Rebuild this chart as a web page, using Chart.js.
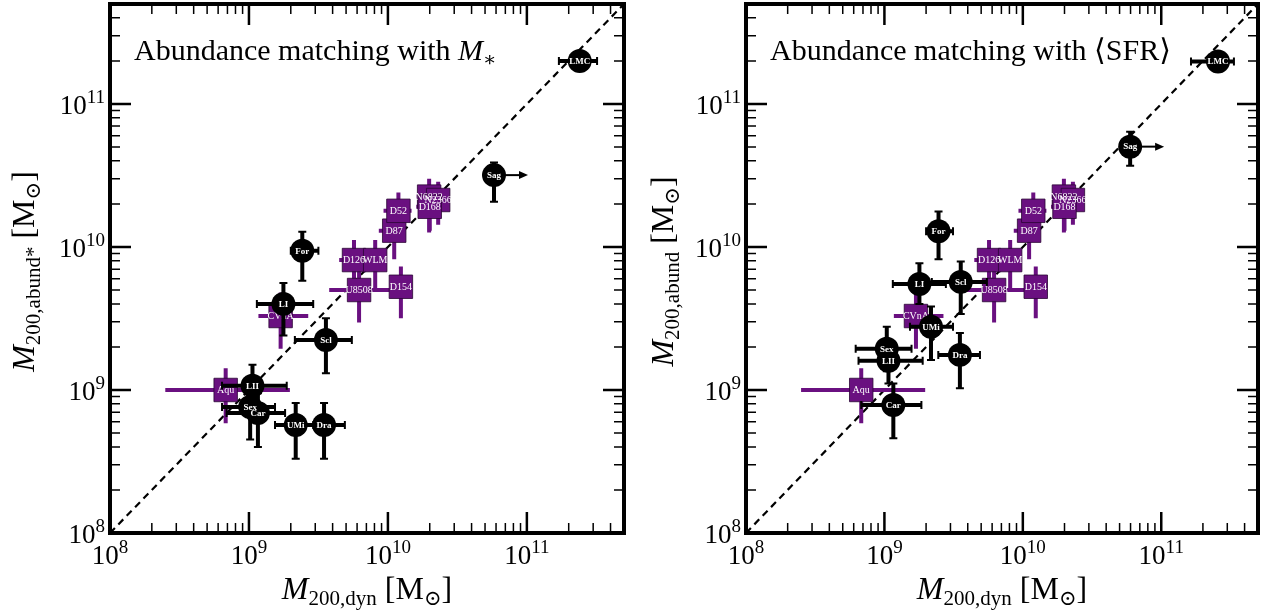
<!DOCTYPE html>
<html>
<head>
<meta charset="utf-8">
<script src="https://cdn.jsdelivr.net/npm/chart.js@4.4.1/dist/chart.umd.min.js"></script>
<style>
  html, body { margin: 0; padding: 0; background: #fff; }
  .panel { position: absolute; top: 0; width: 632px; height: 612px; }
  #left { left: 0; }
  #right { left: 632px; }
</style>
</head>
<body>
<div class="panel" id="left"><canvas id="c1" width="632" height="612"></canvas></div>
<div class="panel" id="right"><canvas id="c2" width="632" height="612"></canvas></div>
<script>
const SERIF = '"Liberation Serif", "DejaVu Serif", serif';
const PURPLE = '#6a1080';

// axis range and tick labels (both panels)
const axisMin = 1e8;
const axisMax = 5e11;
const majorTicks = [1e8, 1e9, 1e10, 1e11];
const majorExp = ['8', '9', '10', '11'];

// purple squares (same in both panels)
const sqNames = ['Aqu', 'CVnA', 'U8508', 'D154', 'D126', 'WLM', 'D87', 'D52', 'N6822', 'N2366', 'D168'];
const sqX   = [6.8e8, 1.69e9, 6.2e9, 1.24e10, 5.7e9, 8.1e9, 1.11e10, 1.19e10, 1.98e10, 2.3e10, 2.0e10];
const sqXlo = [2.5e8, 1.17e9, 3.78e9, 1.1e10, 4.46e9, 7.5e9, 8.6e9, 9.3e9, 1.6e10, 2.0e10, 1.6e10];
const sqXhi = [1.97e9, 2.67e9, 1.03e10, 1.4e10, 6.5e9, 8.8e9, 1.25e10, 1.48e10, 2.5e10, 2.6e10, 2.4e10];
const sqY   = [1.0e9, 3.29e9, 5.0e9, 5.27e9, 8.1e9, 8.1e9, 1.3e10, 1.79e10, 2.25e10, 2.13e10, 1.91e10];
const sqYlo = [5.85e8, 1.94e9, 2.96e9, 3.17e9, 5.9e9, 5.1e9, 8.2e9, 1.32e10, 1.26e10, 1.43e10, 1.3e10];
const sqYhi = [1.42e9, 4.8e9, 7.5e9, 7.3e9, 1.12e10, 1.12e10, 1.6e10, 2.4e10, 3.0e10, 2.86e10, 2.6e10];

// black circles, left panel (abundance matching with M*)
const starNames = ['LMC', 'Sag', 'For', 'LI', 'Scl', 'LII', 'Sex', 'Car', 'UMi', 'Dra'];
const starX   = [2.4e11, 5.8e10, 2.42e9, 1.77e9, 3.58e9, 1.06e9, 1.02e9, 1.16e9, 2.17e9, 3.47e9];
const starXlo = [1.7e11, 5.8e10, 2.0e9, 1.14e9, 2.14e9, 6.4e8, 6.4e8, 6.9e8, 1.54e9, 2.33e9];
const starXhi = [3.2e11, 5.8e10, 3.16e9, 2.9e9, 5.5e9, 1.87e9, 1.54e9, 1.82e9, 2.9e9, 4.9e9];
const starY   = [2.0e11, 3.18e10, 9.4e9, 4.0e9, 2.24e9, 1.07e9, 7.6e8, 6.9e8, 5.7e8, 5.7e8];
const starYlo = [1.85e11, 2.07e10, 5.8e9, 2.4e9, 1.31e9, 7.6e8, 4.5e8, 4.0e8, 3.3e8, 3.3e8];
const starYhi = [2.15e11, 3.9e10, 1.28e10, 5.6e9, 3.17e9, 1.5e9, 9.5e8, 9.5e8, 8.1e8, 8.1e8];
const starLowerLimX = [false, true, false, false, false, false, false, false, false, false];

// black circles, right panel (abundance matching with <SFR>)
const sfrNames = ['LMC', 'Sag', 'For', 'LI', 'Scl', 'UMi', 'Sex', 'LII', 'Car', 'Dra'];
const sfrX   = [2.57e11, 5.96e10, 2.46e9, 1.79e9, 3.56e9, 2.17e9, 1.04e9, 1.07e9, 1.16e9, 3.51e9];
const sfrXlo = [1.64e11, 5.96e10, 2.0e9, 1.15e9, 2.2e9, 1.53e9, 6.2e8, 6.5e8, 6.8e8, 2.45e9];
const sfrXhi = [3.35e11, 5.96e10, 3.13e9, 2.78e9, 5.5e9, 3.13e9, 1.57e9, 1.89e9, 1.85e9, 4.9e9];
const sfrY   = [1.98e11, 5.03e10, 1.29e10, 5.5e9, 5.7e9, 2.77e9, 1.94e9, 1.6e9, 7.85e8, 1.76e9];
const sfrYlo = [1.85e11, 3.7e10, 8.2e9, 4.0e9, 3.4e9, 1.62e9, 1.35e9, 1.11e9, 4.6e8, 1.03e9];
const sfrYhi = [2.15e11, 6.4e10, 1.77e10, 7.7e9, 7.9e9, 3.83e9, 2.77e9, 2.1e9, 1.11e9, 2.5e9];
const sfrLowerLimX = [false, true, false, false, false, false, false, false, false, false];

const pts = (xs, ys) => xs.map((x, i) => ({ x: x, y: ys[i] }));

function drawRich(ctx, parts, x, y, align) {
  let w = 0;
  parts.forEach(p => { ctx.font = p[1]; w += ctx.measureText(p[0]).width; });
  let cx = align === 'center' ? x - w / 2 : align === 'right' ? x - w : x;
  ctx.textAlign = 'left';
  ctx.textBaseline = 'alphabetic';
  parts.forEach(p => {
    ctx.font = p[1];
    ctx.fillText(p[0], cx, y + (p[2] || 0));
    cx += ctx.measureText(p[0]).width;
  });
}

const big = '32px ' + SERIF, bigIt = 'italic 32px ' + SERIF, sub = '21px ' + SERIF;
const tickBase = '27px ' + SERIF, tickSup = '19px ' + SERIF;

function makeDecor(cfg) {
  return {
    id: 'decor',
    beforeDatasetDraw(chart, args) {
      const ds = chart.data.datasets[args.index];
      const e = ds.err;
      if (!e) return;
      const ctx = chart.ctx, x = chart.scales.x, y = chart.scales.y;
      ctx.save();
      ctx.strokeStyle = e.color;
      ctx.fillStyle = e.color;
      ds.data.forEach((p, i) => {
        const px = x.getPixelForValue(p.x), py = y.getPixelForValue(p.y);
        const x0 = x.getPixelForValue(e.xlo[i]), x1 = x.getPixelForValue(e.xhi[i]);
        const y0 = y.getPixelForValue(e.ylo[i]), y1 = y.getPixelForValue(e.yhi[i]);
        ctx.lineWidth = e.width;
        ctx.beginPath();
        ctx.moveTo(x0, py); ctx.lineTo(x1, py);
        ctx.moveTo(px, y0); ctx.lineTo(px, y1);
        ctx.stroke();
        if (e.cap) {
          ctx.lineWidth = 2;
          ctx.beginPath();
          if (x1 - x0 > 1) {
            ctx.moveTo(x0, py - e.cap); ctx.lineTo(x0, py + e.cap);
            ctx.moveTo(x1, py - e.cap); ctx.lineTo(x1, py + e.cap);
          }
          if (y0 - y1 > 1) {
            ctx.moveTo(px - e.cap, y0); ctx.lineTo(px + e.cap, y0);
            ctx.moveTo(px - e.cap, y1); ctx.lineTo(px + e.cap, y1);
          }
          ctx.stroke();
        }
        if (e.limX && e.limX[i]) {
          const end = px + 34;
          ctx.lineWidth = 2;
          ctx.beginPath(); ctx.moveTo(px, py); ctx.lineTo(end - 6, py); ctx.stroke();
          ctx.beginPath();
          ctx.moveTo(end, py); ctx.lineTo(end - 9, py - 4); ctx.lineTo(end - 9, py + 4);
          ctx.closePath(); ctx.fill();
        }
      });
      ctx.restore();
    },
    afterDatasetDraw(chart, args) {
      const ds = chart.data.datasets[args.index];
      if (!ds.names) return;
      const ctx = chart.ctx, x = chart.scales.x, y = chart.scales.y;
      ctx.save();
      ctx.fillStyle = '#fff';
      ctx.font = ds.labelFont;
      ctx.textAlign = 'center';
      ctx.textBaseline = 'middle';
      ds.data.forEach((p, i) => {
        ctx.fillText(ds.names[i], x.getPixelForValue(p.x), y.getPixelForValue(p.y) + 0.5);
      });
      ctx.restore();
    },
    afterDraw(chart) {
      const ctx = chart.ctx, a = chart.chartArea, x = chart.scales.x, y = chart.scales.y;
      ctx.save();
      ctx.strokeStyle = '#000';
      ctx.fillStyle = '#000';
      // inward ticks on all four sides
      for (let k = 8; k <= 11; k++) {
        for (let m = 1; m <= 9; m++) {
          const v = m * Math.pow(10, k);
          if (v >= axisMax) continue;
          const major = m === 1;
          const len = major ? 21 : 10;
          ctx.lineWidth = major ? 2.5 : 1.5;
          const px = x.getPixelForValue(v), py = y.getPixelForValue(v);
          ctx.beginPath();
          ctx.moveTo(px, a.bottom); ctx.lineTo(px, a.bottom - len);
          ctx.moveTo(px, a.top); ctx.lineTo(px, a.top + len);
          ctx.moveTo(a.left, py); ctx.lineTo(a.left + len, py);
          ctx.moveTo(a.right, py); ctx.lineTo(a.right - len, py);
          ctx.stroke();
        }
      }
      ctx.lineWidth = 4;
      ctx.strokeRect(a.left, a.top, a.right - a.left, a.bottom - a.top);
      // tick labels
      majorTicks.forEach((v, i) => {
        const parts = [['10', tickBase], [majorExp[i], tickSup, -11]];
        drawRich(ctx, parts, x.getPixelForValue(v), a.bottom + 31, 'center');
        drawRich(ctx, parts, a.left - 5, y.getPixelForValue(v) + 10, 'right');
      });
      // x title
      drawRich(ctx, [['M', bigIt], ['200,dyn', sub, 6], [' [M', big], ['\u2299', sub, 6], [']', big]],
        (a.left + a.right) / 2, 599, 'center');
      // y title
      ctx.save();
      ctx.translate(cfg.yTitleX, (a.top + a.bottom) / 2 + 3);
      ctx.rotate(-Math.PI / 2);
      drawRich(ctx, [['M', bigIt], [cfg.ySub, sub, 6], [' [M', big], ['\u2299', sub, 6], [']', big]], 0, 0, 'center');
      ctx.restore();
      // panel note
      drawRich(ctx, cfg.note, a.left + 24, 60, 'left');
      ctx.restore();
    }
  };
}

function makeChart(id, names, xs, xlo, xhi, ys, ylo, yhi, lim, pad, cfg) {
  return new Chart(document.getElementById(id), {
    type: 'scatter',
    data: {
      datasets: [
        {
          data: [{ x: axisMin, y: axisMin }, { x: axisMax, y: axisMax }],
          showLine: true,
          borderColor: '#000',
          borderWidth: 2.2,
          borderDash: [7, 5],
          pointRadius: 0,
          order: 3
        },
        {
          data: pts(sqX, sqY),
          names: sqNames,
          labelFont: '10px ' + SERIF,
          err: { xlo: sqXlo, xhi: sqXhi, ylo: sqYlo, yhi: sqYhi, color: PURPLE, width: 4 },
          pointStyle: 'rect',
          pointRadius: 16.6,
          backgroundColor: PURPLE,
          borderColor: '#2a0533',
          borderWidth: 0.8,
          order: 2
        },
        {
          data: pts(xs, ys),
          names: names,
          labelFont: 'bold 9px ' + SERIF,
          err: { xlo: xlo, xhi: xhi, ylo: ylo, yhi: yhi, color: '#000', width: 4, cap: 4, limX: lim },
          pointStyle: 'circle',
          pointRadius: 12,
          backgroundColor: '#000',
          borderWidth: 0,
          order: 1
        }
      ]
    },
    options: {
      responsive: false,
      animation: false,
      events: [],
      layout: { padding: pad, autoPadding: false },
      scales: {
        x: { type: 'logarithmic', min: axisMin, max: axisMax, display: false },
        y: { type: 'logarithmic', min: axisMin, max: axisMax, display: false }
      },
      plugins: { legend: { display: false }, tooltip: { enabled: false } }
    },
    plugins: [makeDecor(cfg)]
  });
}

makeChart('c1', starNames, starX, starXlo, starXhi, starY, starYlo, starYhi, starLowerLimX,
  { left: 110, right: 8, top: 4, bottom: 79 },
  { ySub: '200,abund*', yTitleX: 34,
    note: [['Abundance matching with ', '30px ' + SERIF], ['M', 'italic 30px ' + SERIF], ['\u2217', '20px ' + SERIF, 6]] });

makeChart('c2', sfrNames, sfrX, sfrXlo, sfrXhi, sfrY, sfrYlo, sfrYhi, sfrLowerLimX,
  { left: 114, right: 6, top: 4, bottom: 79 },
  { ySub: '200,abund', yTitleX: 41,
    note: [['Abundance matching with \u27E8SFR\u27E9', '30px ' + SERIF]] });
</script>
</body>
</html>
